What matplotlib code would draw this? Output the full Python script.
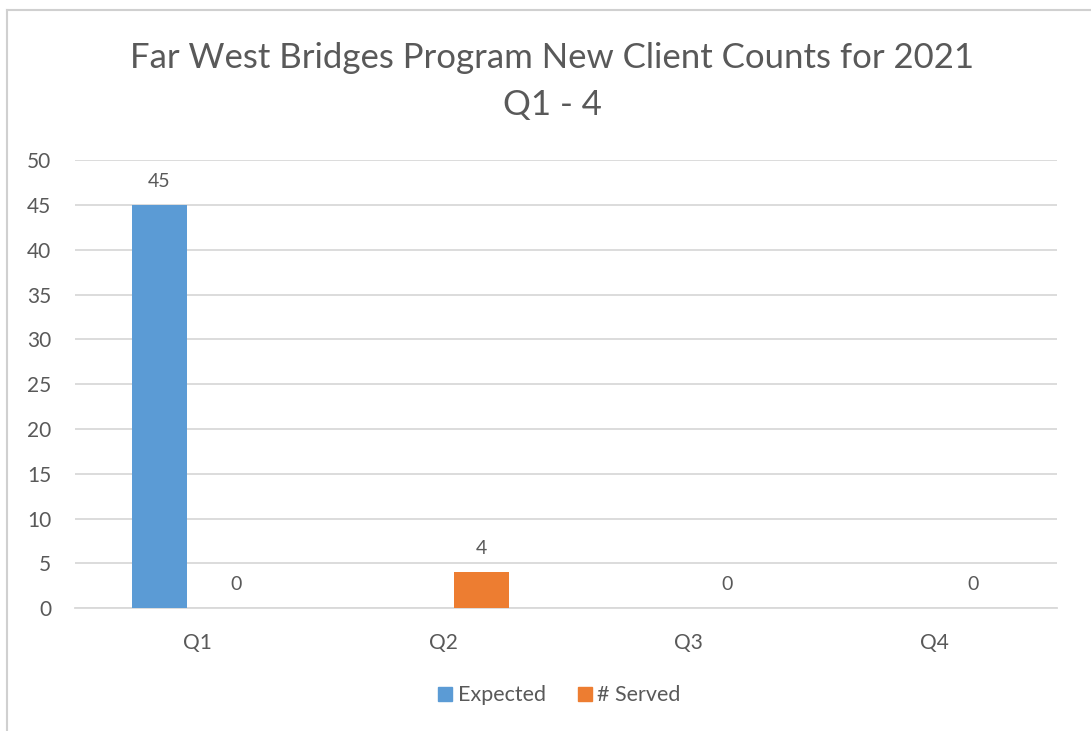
import matplotlib.pyplot as plt
import numpy as np
from matplotlib.lines import Line2D

plt.rcParams['font.family'] = ['Lato', 'DejaVu Sans']

quarters = ['Q1', 'Q2', 'Q3', 'Q4']
expected = [45, np.nan, np.nan, np.nan]
served = [0, 4, 0, 0]

blue = '#5B9BD5'
orange = '#ED7D31'
grey = '#595959'

fig = plt.figure(figsize=(10.91, 7.31), dpi=100)
ax = fig.add_axes([0.0687, 0.168, 0.9003, 0.613])

x = np.arange(len(quarters))
w = 0.224
off = 0.157
b1 = ax.bar(x - off, expected, w, color=blue, label='Expected', zorder=3)
b2 = ax.bar(x + off, served, w, color=orange, label='# Served', zorder=3)

# data labels (no label where expected is missing)
for xi, v in zip(x, expected):
    if not np.isnan(v):
        ax.text(xi - off, v + 1.7, '%d' % v, ha='center', va='bottom', fontsize=14, color=grey)
for xi, v in zip(x, served):
    ax.text(xi + off, v + 1.7, '%d' % v, ha='center', va='bottom', fontsize=14, color=grey)

ax.set_xlim(-0.5, 3.5)
ax.set_ylim(0, 50)
ax.set_yticks(range(0, 51, 5))
ax.set_xticks(x)
ax.set_xticklabels(quarters)
ax.yaxis.grid(True, color='#d9d9d9', linewidth=1.3, zorder=0)
ax.tick_params(axis='both', length=0, labelsize=15, colors=grey)
ax.tick_params(axis='x', pad=18)
ax.tick_params(axis='y', pad=17)
for s in ['top', 'right', 'left']:
    ax.spines[s].set_visible(False)
ax.spines['bottom'].set_color('#d9d9d9')
ax.spines['bottom'].set_linewidth(1.3)

fig.text(0.506, 0.920, 'Far West Bridges Program New Client Counts for 2021',
         ha='center', va='center', fontsize=25, color=grey)
fig.text(0.506, 0.856, 'Q1 - 4', ha='center', va='center', fontsize=25, color=grey)

handles = [Line2D([], [], marker='s', linestyle='', markersize=10, color=blue),
           Line2D([], [], marker='s', linestyle='', markersize=10, color=orange)]
fig.legend(handles, ['Expected', '# Served'], loc='center', bbox_to_anchor=(0.511, 0.049),
           ncol=2, frameon=False, fontsize=15.5, labelcolor=grey, handletextpad=0.1,
           columnspacing=1.3, handlelength=1.0)

# chart frame (top and left edges visible)
fig.add_artist(Line2D([7 / 1091, 1.0], [1 - 10 / 731, 1 - 10 / 731], color='#d0d0d0', lw=1.5,
                      transform=fig.transFigure))
fig.add_artist(Line2D([7 / 1091, 7 / 1091], [0, 1 - 10 / 731], color='#d0d0d0', lw=1.5,
                      transform=fig.transFigure))

fig.savefig('out.png', dpi=100)
